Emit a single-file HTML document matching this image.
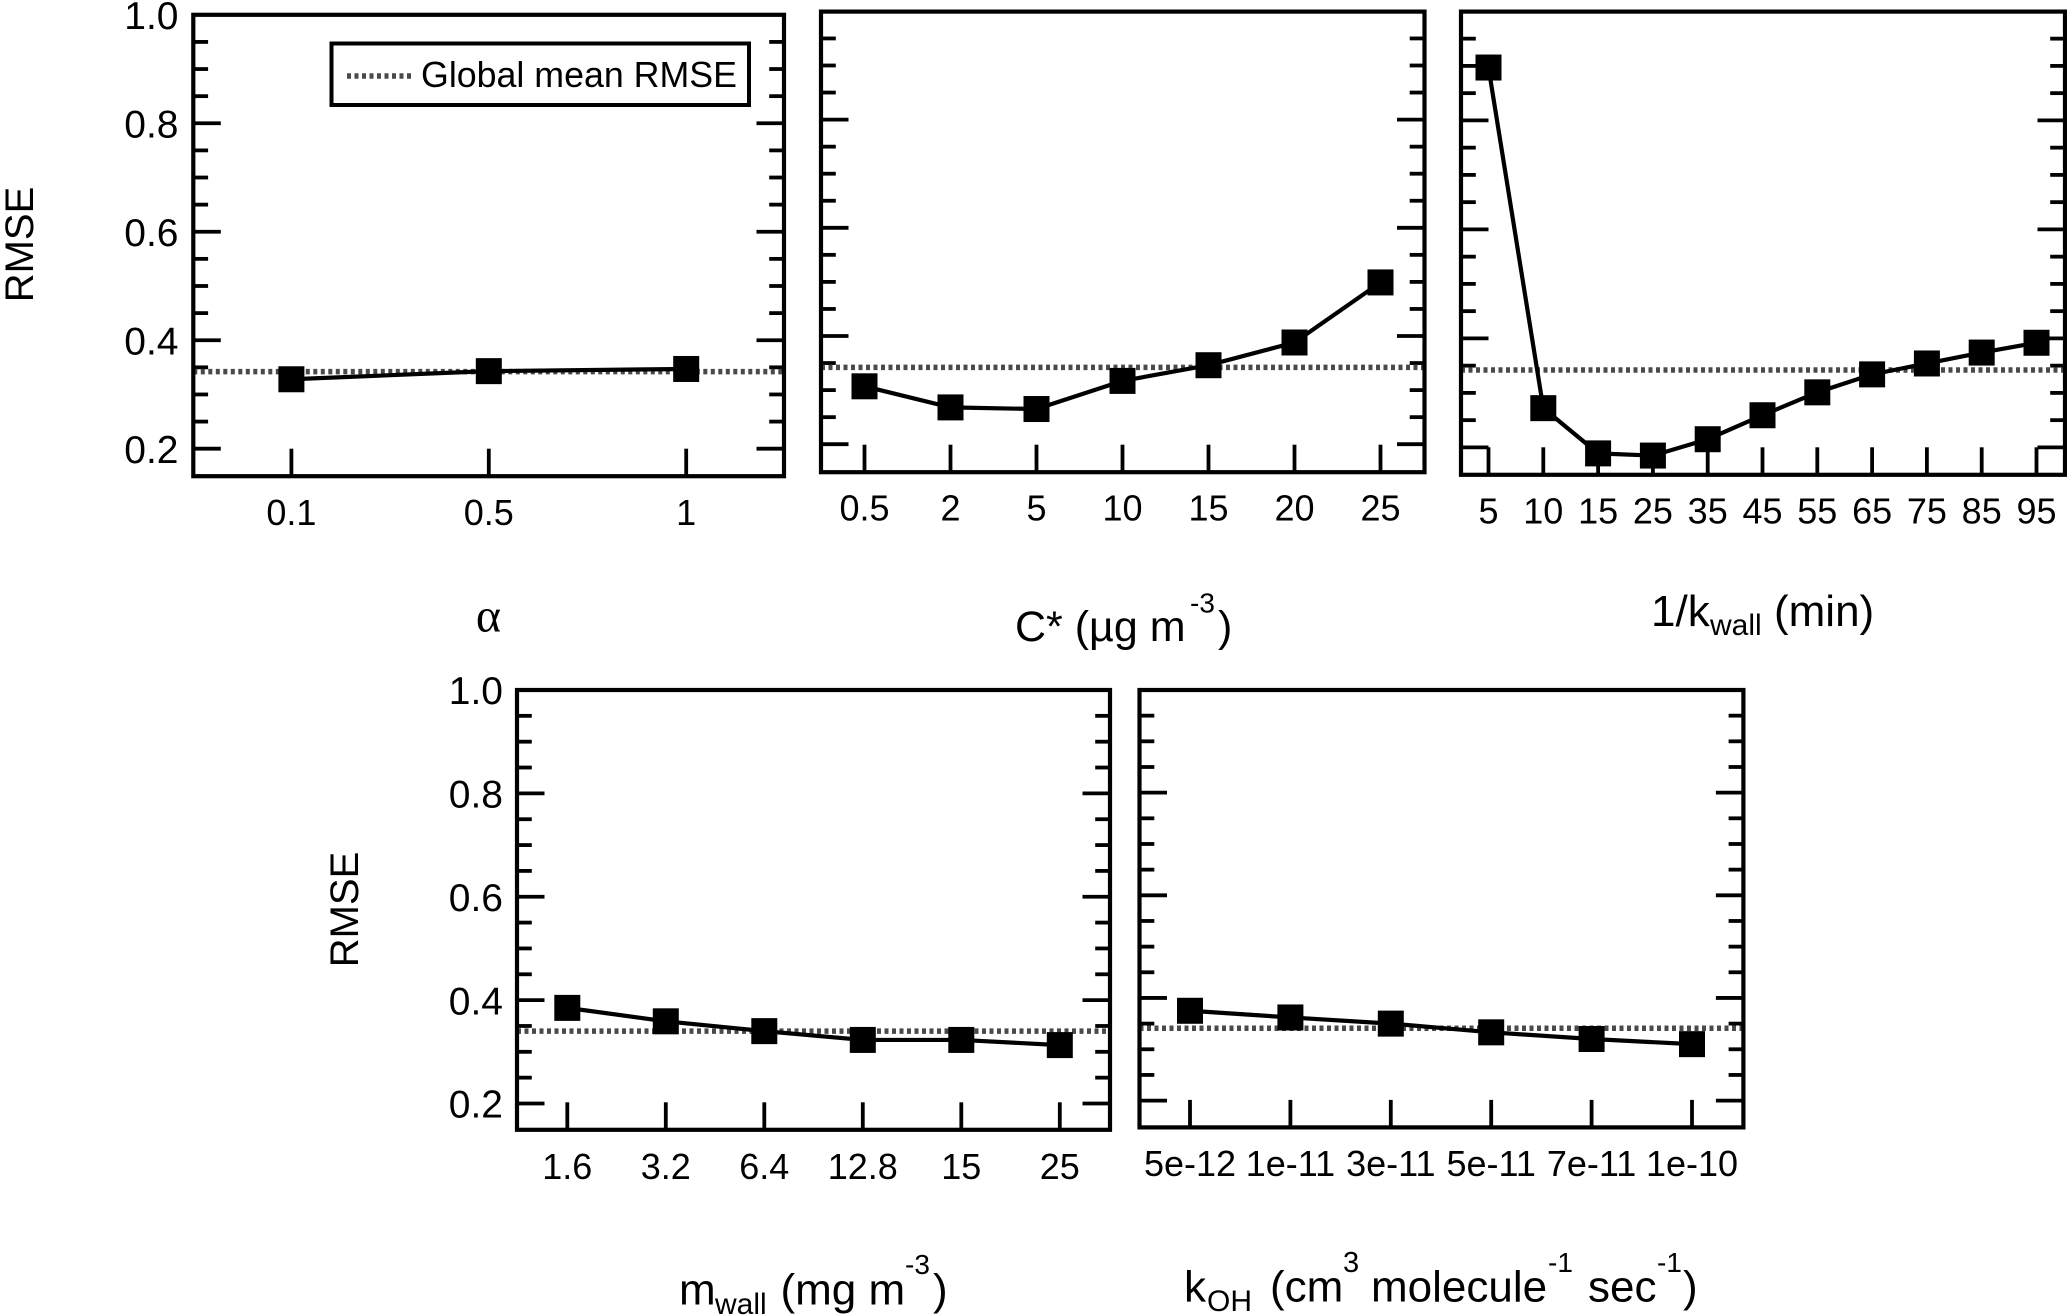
<!DOCTYPE html>
<html lang="en">
<head>
<meta charset="utf-8">
<title>RMSE sensitivity panels</title>
<style>
html,body{margin:0;padding:0;background:#fff;}
svg{display:block;}
text{font-family:"Liberation Sans",sans-serif;fill:#000;}
</style>
</head>
<body>
<svg id="figure" xmlns="http://www.w3.org/2000/svg" width="2067" height="1316" viewBox="0 0 2067 1316">
  <rect x="0" y="0" width="2067" height="1316" fill="#fff"/>
  <g id="panels"></g>

  <g>
    <rect x="331.5" y="43.5" width="417.5" height="61.5" fill="#fff" stroke="#000" stroke-width="4"/>
    <line x1="347" y1="76" x2="411" y2="76" stroke="#4a4a4a" stroke-width="5.5" stroke-dasharray="4 3.5"/>
    <text x="421" y="87" font-size="36" textLength="316" lengthAdjust="spacingAndGlyphs">Global mean RMSE</text>
  </g>

  <text transform="translate(33 244.5) rotate(-90)" text-anchor="middle" font-size="40">RMSE</text>
  <text transform="translate(358 909.5) rotate(-90)" text-anchor="middle" font-size="40">RMSE</text>

  <text x="488.5" y="631.5" text-anchor="middle" font-size="48" style="font-family:'Liberation Serif',serif">α</text>

  <text font-size="43"><tspan x="1015" y="641">C* (µg m</tspan><tspan x="1190" y="612.5" font-size="28">-3</tspan><tspan x="1218" y="641">)</tspan></text>

  <text font-size="44"><tspan x="1651" y="626">1/k</tspan><tspan x="1710" y="635" font-size="30">wall</tspan><tspan x="1774" y="626">(min)</tspan></text>

  <text font-size="44"><tspan x="679" y="1304.5">m</tspan><tspan x="715" y="1314" font-size="30">wall</tspan><tspan x="780.5" y="1304.5">(mg m</tspan><tspan x="905" y="1274" font-size="28">-3</tspan><tspan x="933" y="1304.5">)</tspan></text>

  <text font-size="44"><tspan x="1184" y="1301.5">k</tspan><tspan x="1207" y="1311" font-size="30">OH</tspan><tspan x="1270" y="1301.5">(cm</tspan><tspan x="1343" y="1272" font-size="29">3</tspan><tspan x="1371" y="1301.5">molecule</tspan><tspan x="1548" y="1272" font-size="28">-1</tspan><tspan x="1588" y="1301.5">sec</tspan><tspan x="1657" y="1272" font-size="28">-1</tspan><tspan x="1683" y="1301.5">)</tspan></text>
</svg>

<script>
// ---- data ----
const yTickLabels = ['0.2', '0.4', '0.6', '0.8', '1.0'];
const yMajorValues = [0.2, 0.4, 0.6, 0.8, 1.0];
const yMinorValues = [0.25, 0.3, 0.35, 0.45, 0.5, 0.55, 0.65, 0.7, 0.75, 0.85, 0.9, 0.95];

const alphaCategories = ['0.1', '0.5', '1'];
const alphaRmse = [0.328, 0.343, 0.347];
const alphaMean = 0.342;

const cstarCategories = ['0.5', '2', '5', '10', '15', '20', '25'];
const cstarRmse = [0.307, 0.268, 0.265, 0.317, 0.346, 0.388, 0.499];
const cstarMean = 0.342;

const kwallCategories = ['5', '10', '15', '25', '35', '45', '55', '65', '75', '85', '95'];
const kwallRmse = [0.897, 0.272, 0.189, 0.185, 0.215, 0.259, 0.301, 0.334, 0.354, 0.374, 0.392];
const kwallMean = 0.342;

const mwallCategories = ['1.6', '3.2', '6.4', '12.8', '15', '25'];
const mwallRmse = [0.385, 0.359, 0.340, 0.323, 0.323, 0.313];
const mwallMean = 0.340;

const kohCategories = ['5e-12', '1e-11', '3e-11', '5e-11', '7e-11', '1e-10'];
const kohRmse = [0.375, 0.362, 0.350, 0.333, 0.320, 0.310];
const kohMean = 0.341;

// ---- layout of each panel (not data) ----
const layouts = {
  alpha: {left:193.3, right:784,    top:14.8, bottom:476.2, y02:448.7, y10:14.8, x0:291.4,  step:197.4, showY:true,  labelBase:525,  labelSize:36, labelRight:178.5},
  cstar: {left:821,   right:1424.5, top:11.6, bottom:472.2, y02:444.2, y10:11.4, x0:864.5,  step:86,    showY:false, labelBase:520.7,labelSize:36},
  kwall: {left:1461,  right:2065,   top:11.6, bottom:474.8, y02:447.4, y10:11.4, x0:1488.5, step:54.8,  showY:false, labelBase:523.5,labelSize:36},
  mwall: {left:517,   right:1110,   top:690,  bottom:1129.8,y02:1103.5,y10:690,  x0:567.3,  step:98.5,  showY:true,  labelBase:1179, labelSize:36, labelRight:503},
  koh:   {left:1139.5,right:1743.4, top:690,  bottom:1127.4,y02:1100.6,y10:690,  x0:1190,   step:100.4, showY:false, labelBase:1176, labelSize:36}
};

const panelList = [
  {key:'alpha', categories:alphaCategories, values:alphaRmse, mean:alphaMean},
  {key:'cstar', categories:cstarCategories, values:cstarRmse, mean:cstarMean},
  {key:'kwall', categories:kwallCategories, values:kwallRmse, mean:kwallMean},
  {key:'mwall', categories:mwallCategories, values:mwallRmse, mean:mwallMean},
  {key:'koh',   categories:kohCategories,   values:kohRmse,   mean:kohMean}
];

const NS = 'http://www.w3.org/2000/svg';
const root = document.getElementById('panels');
const MAJOR = 27.5, MINOR = 14.8, MARK = 26;

function make(parent, tag, attrs, text) {
  const el = document.createElementNS(NS, tag);
  for (const k in attrs) el.setAttribute(k, attrs[k]);
  if (text !== undefined) el.textContent = text;
  parent.appendChild(el);
  return el;
}

function drawPanel(panel) {
  const L = layouts[panel.key];
  const xScale = i => L.x0 + i * L.step;
  const yScale = v => L.y02 + (v - 0.2) * (L.y10 - L.y02) / 0.8;

  const g = make(root, 'g', {});
  
  

  // y ticks on both sides
  yMajorValues.forEach(v => {
    if (v === 1.0) return;
    const y = yScale(v);
    const a = make(g, 'line', {x1:L.left, x2:L.left + MAJOR, y1:y, y2:y, stroke:'#000', 'stroke-width':3.8});
    
    
    const b = make(g, 'line', {x1:L.right - MAJOR, x2:L.right, y1:y, y2:y, stroke:'#000', 'stroke-width':3.8});
    
    
  });
  yMinorValues.forEach(v => {
    const y = yScale(v);
    const a = make(g, 'line', {x1:L.left, x2:L.left + MINOR, y1:y, y2:y, stroke:'#000', 'stroke-width':3.8});
    
    
    const b = make(g, 'line', {x1:L.right - MINOR, x2:L.right, y1:y, y2:y, stroke:'#000', 'stroke-width':3.8});
    
    
  });

  // y tick labels
  if (L.showY) {
    yTickLabels.forEach((label, i) => {
      const t = make(g, 'text', {x:L.labelRight, y:yScale(yMajorValues[i]) + 14.2, 'text-anchor':'end', 'font-size':39}, label);
      
      
    });
  }

  // x ticks and labels
  panel.categories.forEach((label, i) => {
    const x = xScale(i);
    const tick = make(g, 'line', {x1:x, x2:x, y1:L.bottom - MAJOR, y2:L.bottom, stroke:'#000', 'stroke-width':3.8});
    
    
    const t = make(g, 'text', {x:x, y:L.labelBase, 'text-anchor':'middle', 'font-size':L.labelSize}, label);
    
    
  });

  // global mean dotted line
  const mean = make(g, 'line', {x1:L.left, x2:L.right, y1:yScale(panel.mean), y2:yScale(panel.mean), stroke:'#4a4a4a', 'stroke-width':5.5, 'stroke-dasharray':'4 3.5'});
  
  

  // frame
  const frame = make(g, 'rect', {x:L.left, y:L.top, width:L.right - L.left, height:L.bottom - L.top, fill:'none', stroke:'#000', 'stroke-width':4.2});
  
  

  // series line
  const pts = panel.values.map((v, i) => xScale(i) + ',' + yScale(v)).join(' ');
  const line = make(g, 'polyline', {points:pts, fill:'none', stroke:'#000', 'stroke-width':4.2, 'stroke-linejoin':'miter'});
  
  

  // markers
  panel.values.forEach((v, i) => {
    const m = make(g, 'rect', {x:xScale(i) - MARK / 2, y:yScale(v) - MARK / 2, width:MARK, height:MARK, fill:'#000'});
    
    
  });
}

panelList.forEach(drawPanel);
</script>
</body>
</html>
